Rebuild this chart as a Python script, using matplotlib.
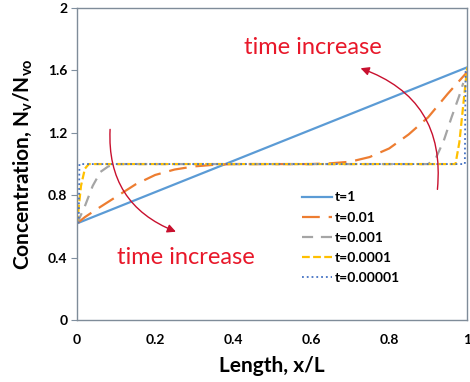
import matplotlib
matplotlib.use('Agg')
import matplotlib.pyplot as plt

plt.rcParams['font.family'] = ['Lato', 'DejaVu Sans']

# -------------------------------
# DATA
# -------------------------------
x_t1 = [0.0, 1.0]
y_t1 = [0.62, 1.62]

x_t2 = [0.0, 0.02, 0.05, 0.1, 0.15, 0.2, 0.25, 0.3, 0.35, 0.4, 0.5, 0.6, 0.65, 0.7, 0.75, 0.8, 0.85, 0.9, 0.95, 1.0]
y_t2 = [0.62, 0.66, 0.71, 0.79, 0.87, 0.93, 0.965, 0.985, 0.995, 1.0, 1.0, 1.0, 1.005, 1.015, 1.045, 1.10, 1.19, 1.30, 1.45, 1.59]

x_t3 = [0.0, 0.02, 0.04, 0.06, 0.08, 0.1, 0.9, 0.92, 0.94, 0.96, 0.98, 0.99]
y_t3 = [0.62, 0.73, 0.86, 0.95, 0.985, 1.0, 1.0, 1.04, 1.15, 1.30, 1.44, 1.52]

x_t4 = [0.0, 0.01, 0.02, 0.03, 0.97, 0.98, 0.99, 1.0]
y_t4 = [0.62, 0.86, 0.97, 1.0, 1.0, 1.14, 1.38, 1.62]

x_t5 = [0.004, 0.006, 0.994, 0.996]
y_t5 = [0.62, 1.0, 1.0, 1.6]

labels = ['t=1', 't=0.01', 't=0.001', 't=0.0001', 't=0.00001']

xticks = [0, 0.2, 0.4, 0.6, 0.8, 1]
xtick_labels = ['0', '0.2', '0.4', '0.6', '0.8', '1']
yticks = [0, 0.4, 0.8, 1.2, 1.6, 2]
ytick_labels = ['0', '0.4', '0.8', '1.2', '1.6', '2']

# -------------------------------
# PLOT
# -------------------------------
fig = plt.figure(figsize=(4.7, 3.82), dpi=100)
ax = fig.add_axes([0.164, 0.162, 0.830, 0.817])

ax.plot(x_t1, y_t1, color='#5b9bd5', lw=1.6, label=labels[0])
ax.plot(x_t2, y_t2, color='#ed7d31', lw=1.6, dashes=(8, 4), label=labels[1])
ax.plot(x_t3, y_t3, color='#a5a5a5', lw=1.6, dashes=(5, 3.5), label=labels[2])
ax.plot(x_t4, y_t4, color='#ffc000', lw=1.6, dashes=(3.5, 1.5), label=labels[3])
ax.plot(x_t5, y_t5, color='#4472c4', lw=1.3, ls=':', label=labels[4])

ax.set_xlim(0, 1)
ax.set_ylim(0, 2)
ax.set_xticks(xticks)
ax.set_xticklabels(xtick_labels, fontweight='bold', fontsize=10)
ax.set_yticks(yticks)
ax.set_yticklabels(ytick_labels, fontweight='bold', fontsize=10)
ax.tick_params(axis='x', length=0, pad=10)
ax.tick_params(axis='y', length=4, width=0.8, color='#8090a0', pad=3)
for sp in ax.spines.values():
    sp.set_color('#7f8c99')
    sp.set_linewidth(1.0)

ax.set_xlabel('Length, x/L', fontsize=15, fontweight='bold', labelpad=7)
ax.set_ylabel('Concentration, N$_\\mathregular{v}$/N$_\\mathregular{vo}$', fontsize=15, fontweight='bold', labelpad=9)

leg = ax.legend(loc='upper left', bbox_to_anchor=(0.562, 0.43), frameon=False,
                prop={'weight': 'bold', 'size': 10}, handlelength=2.2,
                handletextpad=0.2, labelspacing=0.58, borderaxespad=0)

# red annotations
ax.text(0.605, 1.745, 'time increase', color='#e8182a', fontsize=17, ha='center', va='center')
ax.text(0.278, 0.40, 'time increase', color='#e8182a', fontsize=17, ha='center', va='center')
ax.annotate('', xy=(0.72, 1.62), xytext=(0.923, 0.82),
            arrowprops=dict(arrowstyle='-|>,head_length=0.5,head_width=0.25', color='#c8102e',
                            lw=1.0, connectionstyle='arc3,rad=0.4'))
ax.annotate('', xy=(0.26, 0.56), xytext=(0.085, 1.24),
            arrowprops=dict(arrowstyle='-|>,head_length=0.5,head_width=0.25', color='#c8102e',
                            lw=1.0, connectionstyle='arc3,rad=0.37'))

fig.savefig('out.png', dpi=100)
